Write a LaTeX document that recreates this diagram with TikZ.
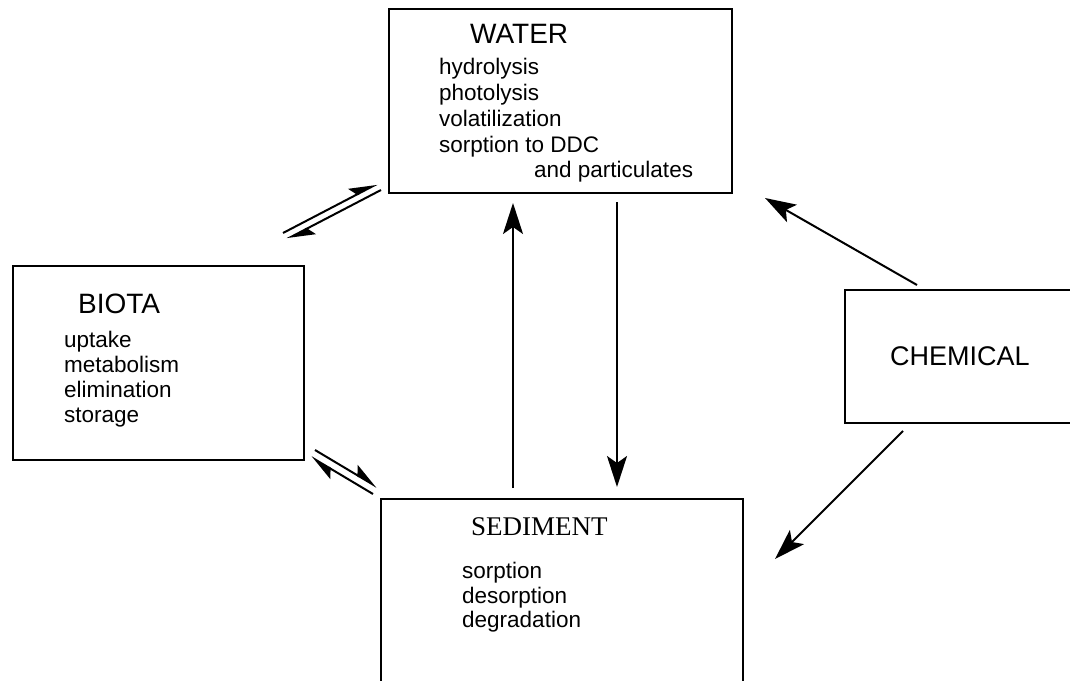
\documentclass[tikz,border=0pt]{standalone}
\usepackage{fontspec}
\setmainfont{Liberation Sans}
\newfontfamily\serifx{Liberation Serif}
\usetikzlibrary{arrows.meta}
\begin{document}
\begin{tikzpicture}[x=1pt,y=-1pt,
 box/.style={draw, line width=2pt, anchor=north west, inner sep=0pt},
 ttl/.style={anchor=base west, inner sep=0pt, font=\fontsize{28}{32}\selectfont},
 item/.style={anchor=base west, inner sep=0pt, font=\fontsize{22.5}{26}\selectfont},
 flow/.style={line width=2pt, -{Stealth[length=31pt,width=20pt,inset=7pt]}},
 eqarr/.style={line width=2pt, -{Stealth[harpoon,length=25pt,width=18pt,inset=5pt]}}
]
\useasboundingbox (0,0) rectangle (1070,680);
% boxes
\node[box, minimum width=343pt, minimum height=184pt] (water) at (388,8) {};
\node[box, minimum width=291pt, minimum height=194pt] (biota) at (12,265) {};
\node[box, minimum width=250pt, minimum height=133pt] (chem) at (844,289) {};
\node[box, minimum width=362pt, minimum height=220pt] (sed) at (380,498) {};
% water text
\node[ttl] (wt) at (470,43) {WATER};
\node[item] (w1) at (439,74) {hydrolysis};
\node[item] (w2) at (439,100) {photolysis};
\node[item] (w3) at (439,126) {volatilization};
\node[item] (w4) at (439,152) {sorption to DDC};
\node[item] (w5) at (534,177) {and particulates};
% biota text
\node[ttl] (bt) at (78,313) {BIOTA};
\node[item] (b1) at (64,347) {uptake};
\node[item] (b2) at (64,372) {metabolism};
\node[item] (b3) at (64,397) {elimination};
\node[item] (b4) at (64,422) {storage};
% chemical
\node[ttl, font=\fontsize{27}{30}\selectfont] (ct) at (890,365) {CHEMICAL};
% sediment text
\node[ttl, font=\serifx\fontsize{27}{30}\selectfont] (st) at (471,535) {SEDIMENT};
\node[item] (s1) at (462,578) {sorption};
\node[item] (s2) at (462,603) {desorption};
\node[item] (s3) at (462,627) {degradation};
% arrow end points
\coordinate (upA) at (513,488);
\coordinate (upB) at (513,203);
\coordinate (dnA) at (617,202);
\coordinate (dnB) at (617,487);
\coordinate (cwA) at (917,285);
\coordinate (cwB) at (765,198);
\coordinate (csA) at (903,431);
\coordinate (csB) at (775,559);
\coordinate (bw1a) at (283,233);
\coordinate (bw1b) at (377,184);
\coordinate (bw2a) at (381,190);
\coordinate (bw2b) at (287,239);
\coordinate (bs1a) at (315,450);
\coordinate (bs1b) at (377,487);
\coordinate (bs2a) at (373,494);
\coordinate (bs2b) at (311,457);
% connectors
\draw[flow] (upA) -- (upB);
\draw[flow] (dnA) -- (dnB);
\draw[flow] (cwA) -- (cwB);
\draw[flow] (csA) -- (csB);
\draw[eqarr] (bw1a) -- (bw1b);
\draw[eqarr] (bw2a) -- (bw2b);
\draw[eqarr] (bs1a) -- (bs1b);
\draw[eqarr] (bs2a) -- (bs2b);
\end{tikzpicture}
\end{document}
